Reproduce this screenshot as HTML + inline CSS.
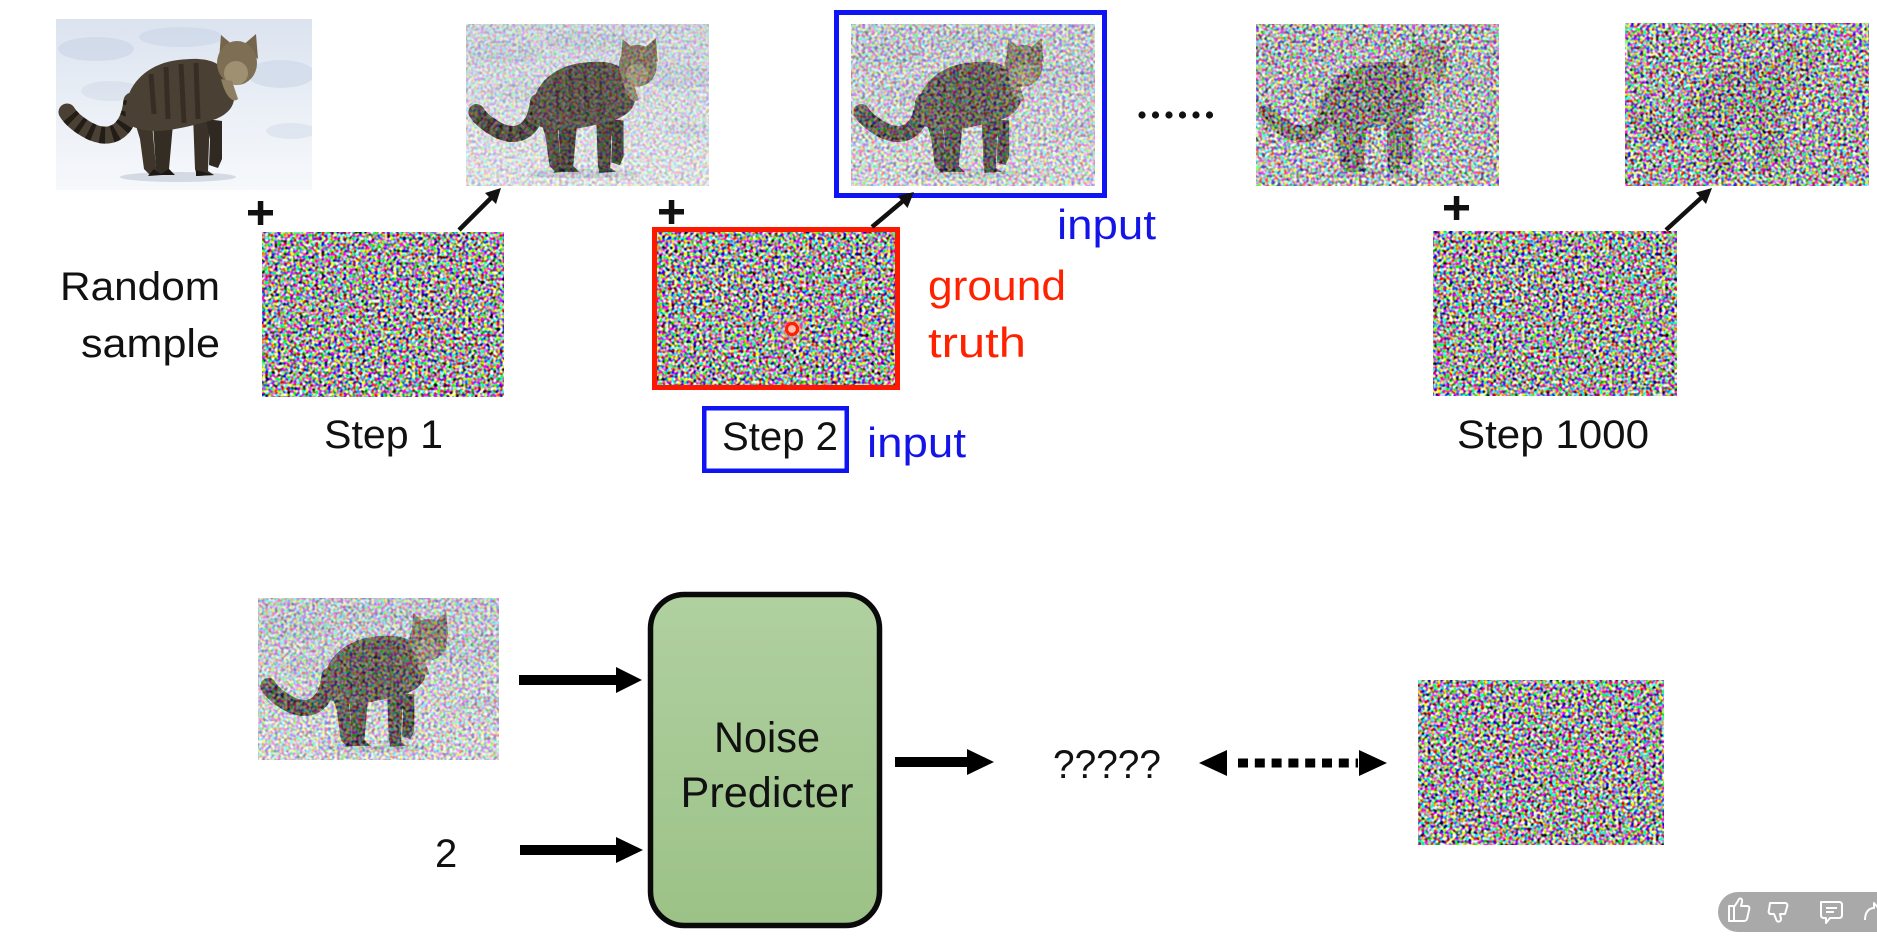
<!DOCTYPE html>
<html><head><meta charset="utf-8"><style>
html,body{margin:0;padding:0;background:#fff;}
body{width:1877px;height:937px;overflow:hidden;position:relative;}
svg{position:absolute;left:0;top:0;}
text{font-family:"Liberation Sans",sans-serif;}
</style></head><body>
<svg width="1877" height="937" viewBox="0 0 1877 937" xmlns="http://www.w3.org/2000/svg">
<defs>
  <filter id="nz" x="0" y="0" width="100%" height="100%" color-interpolation-filters="sRGB">
    <feTurbulence type="fractalNoise" baseFrequency="0.32" numOctaves="1" seed="7"/>
    <feComponentTransfer>
      <feFuncR type="linear" slope="3.6" intercept="-1.17"/>
      <feFuncG type="linear" slope="3.6" intercept="-1.17"/>
      <feFuncB type="linear" slope="3.6" intercept="-1.17"/>
      <feFuncA type="linear" slope="0" intercept="1"/>
    </feComponentTransfer>
  </filter>
  <linearGradient id="snow" x1="0" y1="0" x2="0" y2="1">
    <stop offset="0" stop-color="#dbe3ef"/>
    <stop offset="0.5" stop-color="#eaeff6"/>
    <stop offset="1" stop-color="#f6f8fb"/>
  </linearGradient>
  <linearGradient id="grn" x1="0" y1="0" x2="0" y2="1">
    <stop offset="0" stop-color="#b0d0a0"/>
    <stop offset="1" stop-color="#9cc287"/>
  </linearGradient>
  <radialGradient id="glow">
    <stop offset="0" stop-color="#ff9a8a" stop-opacity="0.9"/>
    <stop offset="1" stop-color="#ffb0a0" stop-opacity="0"/>
  </radialGradient>
  <symbol id="cat" viewBox="0 0 256 171" preserveAspectRatio="none">
    <rect x="0" y="0" width="256" height="171" fill="url(#snow)"/>
    <ellipse cx="40" cy="30" rx="38" ry="12" fill="#c6d1e3" opacity="0.55"/>
    <ellipse cx="125" cy="18" rx="42" ry="10" fill="#c6d1e3" opacity="0.5"/>
    <ellipse cx="225" cy="55" rx="34" ry="14" fill="#c9d4e5" opacity="0.55"/>
    <ellipse cx="55" cy="72" rx="30" ry="10" fill="#ccd7e7" opacity="0.45"/>
    <ellipse cx="235" cy="112" rx="25" ry="8" fill="#ccd7e7" opacity="0.45"/>
    <ellipse cx="122" cy="158" rx="58" ry="5" fill="#bcc6d5" opacity="0.6"/>
    <path d="M76 82 C72 118 50 122 30 110 C20 104 14 98 11 93" fill="none" stroke="#4a4034" stroke-width="17" stroke-linecap="round"/>
    <path d="M76 82 C72 118 50 122 30 110 C20 104 14 98 11 93" fill="none" stroke="#221d16" stroke-width="17" stroke-dasharray="5 7"/>
    <path d="M78 100 L96 104 L100 148 L106 153 L94 156 L88 150 L84 120 Z" fill="#3e362b"/>
    <path d="M97 105 L117 105 L113 150 L118 156 L104 156 L100 150 Z" fill="#342d24"/>
    <path d="M137 95 L154 95 L152 152 L158 156 L141 157 L139 150 Z" fill="#3a3229"/>
    <path d="M150 100 L166 102 L166 140 L162 149 L153 146 L154 120 Z" fill="#2f2921"/>
    <path d="M70 100 C66 70 88 45 122 41 C145 38 162 40 172 55 C184 80 178 92 160 100 C140 106 115 112 100 112 C85 112 72 108 70 100 Z" fill="#4a4034"/>
    <path d="M95 55 L98 95 M110 48 L112 100 M125 45 L128 104 M140 44 L142 100" stroke="#2a231b" stroke-width="5" opacity="0.6"/>
    <path d="M163 40 L165 16 L178 27 Z" fill="#74654c"/>
    <path d="M186 27 L200 15 L202 40 Z" fill="#74654c"/>
    <ellipse cx="181" cy="44" rx="20" ry="22" fill="#7d6e54"/>
    <ellipse cx="180" cy="54" rx="12" ry="12" fill="#a09072"/>
    <path d="M165 60 C170 80 178 84 182 80 L176 62 Z" fill="#8e7f62"/>
    <path d="M98 150 L106 156 L92 157 Z M113 150 L119 156 L103 156 Z M140 151 L158 156 L140 157 Z" fill="#1c1813"/>
  </symbol>
</defs>

<!-- top row images -->
<use href="#cat" x="56" y="19" width="256" height="171"/>

<use href="#cat" x="466" y="24" width="243" height="162"/>
<rect x="466" y="24" width="243" height="162" filter="url(#nz)" opacity="0.28"/>

<use href="#cat" x="851" y="24" width="244" height="162"/>
<rect x="851" y="24" width="244" height="162" filter="url(#nz)" opacity="0.44"/>
<rect x="836.5" y="12.5" width="268" height="183" fill="none" stroke="#0f14f5" stroke-width="5"/>

<use href="#cat" x="1256" y="24" width="243" height="162"/>
<rect x="1256" y="24" width="243" height="162" filter="url(#nz)" opacity="0.72"/>

<use href="#cat" x="1625" y="23" width="244" height="163"/>
<rect x="1625" y="23" width="244" height="163" filter="url(#nz)" opacity="0.9"/>

<!-- dots -->
<g fill="#111">
  <circle cx="1142" cy="115" r="3.6"/><circle cx="1155.5" cy="115" r="3.6"/><circle cx="1169" cy="115" r="3.6"/>
  <circle cx="1182.5" cy="115" r="3.6"/><circle cx="1196" cy="115" r="3.6"/><circle cx="1209.5" cy="115" r="3.6"/>
</g>

<!-- plus signs -->
<g fill="#111">
  <rect x="248" y="210" width="25" height="5.5"/><rect x="257.8" y="201" width="5.5" height="24"/>
  <rect x="659" y="209" width="25" height="5.5"/><rect x="668.8" y="200" width="5.5" height="24"/>
  <rect x="1444" y="205" width="25" height="5.5"/><rect x="1453.8" y="196" width="5.5" height="24"/>
</g>

<!-- noise images row 2 -->
<rect x="262" y="232" width="242" height="165" filter="url(#nz)"/>
<rect x="657" y="232" width="239" height="154" filter="url(#nz)"/>
<rect x="654.5" y="229.5" width="243" height="158" fill="none" stroke="#ff1800" stroke-width="5"/>
<circle cx="792" cy="329" r="16" fill="url(#glow)"/>
<circle cx="792" cy="329" r="5.5" fill="#ffc0b0" stroke="#ff2000" stroke-width="3.2"/>
<rect x="1433" y="231" width="244" height="165" filter="url(#nz)"/>

<!-- diagonal arrows -->
<g stroke="#111" stroke-width="4.5" fill="none">
  <line x1="459" y1="230" x2="491" y2="198"/>
  <line x1="872" y1="227" x2="903" y2="201"/>
  <line x1="1666" y1="230" x2="1701" y2="198"/>
</g>
<g fill="#111">
  <polygon points="501,188 496,204 485,193"/>
  <polygon points="914,192 907.5,208 897.5,196"/>
  <polygon points="1712,188 1706,204 1696,192.5"/>
</g>

<!-- labels -->
<text x="220" y="300" font-size="40" text-anchor="end" fill="#111" textLength="160" lengthAdjust="spacingAndGlyphs">Random</text>
<text x="220" y="357" font-size="40" text-anchor="end" fill="#111" textLength="139" lengthAdjust="spacingAndGlyphs">sample</text>
<text x="324" y="448" font-size="40" fill="#111" textLength="119" lengthAdjust="spacingAndGlyphs">Step 1</text>
<rect x="704.25" y="408.25" width="142.5" height="62.5" fill="none" stroke="#0f14f5" stroke-width="4.5"/>
<text x="722" y="450" font-size="40" fill="#111" textLength="116" lengthAdjust="spacingAndGlyphs">Step 2</text>
<text x="867" y="457" font-size="42" fill="#1414e8" textLength="99" lengthAdjust="spacingAndGlyphs">input</text>
<text x="1057" y="239" font-size="42" fill="#1414e8" textLength="99" lengthAdjust="spacingAndGlyphs">input</text>
<text x="928" y="300" font-size="42" fill="#ff2200" textLength="138" lengthAdjust="spacingAndGlyphs">ground</text>
<text x="928" y="357" font-size="42" fill="#ff2200" textLength="98" lengthAdjust="spacingAndGlyphs">truth</text>
<text x="1457" y="448" font-size="40" fill="#111" textLength="192" lengthAdjust="spacingAndGlyphs">Step 1000</text>

<!-- bottom section -->
<use href="#cat" x="258" y="598" width="241" height="162"/>
<rect x="258" y="598" width="241" height="162" filter="url(#nz)" opacity="0.44"/>

<g fill="#000">
  <rect x="519" y="675" width="101" height="10"/>
  <polygon points="616,667 642,680 616,693"/>
  <rect x="520" y="845" width="98" height="10"/>
  <polygon points="616,837 643,850 616,863"/>
  <rect x="895" y="757" width="75" height="10"/>
  <polygon points="967,749 994,762 967,775"/>
  <polygon points="1199,763 1227,750 1227,776"/>
  <polygon points="1387,763 1359,750 1359,776"/>
</g>
<line x1="1238" y1="763" x2="1358" y2="763" stroke="#000" stroke-width="9" stroke-dasharray="10 6.8"/>

<text x="435" y="867" font-size="40" fill="#111">2</text>

<rect x="650.5" y="594.5" width="229" height="331" rx="34" ry="34" fill="url(#grn)" stroke="#0a0a0a" stroke-width="5.5"/>
<text x="767" y="752" font-size="43" text-anchor="middle" fill="#111" textLength="106" lengthAdjust="spacingAndGlyphs">Noise</text>
<text x="767" y="807" font-size="43" text-anchor="middle" fill="#111" textLength="173" lengthAdjust="spacingAndGlyphs">Predicter</text>

<text x="1053" y="778" font-size="40" fill="#111" textLength="108" lengthAdjust="spacingAndGlyphs">?????</text>

<rect x="1418" y="680" width="246" height="165" filter="url(#nz)"/>

<!-- feedback pill -->
<rect x="1718" y="892" width="180" height="40" rx="20" ry="20" fill="#a9a9a9"/>
<g fill="none" stroke="#fff" stroke-width="2" stroke-linejoin="round">
  <path d="M1729 906 L1734 906 L1734 921 L1729 921 Z M1734 907 L1738 901 C1739 897 1743 898 1742 902 L1741 906 L1747 906 C1749 906 1750 908 1749 910 L1747 919 C1746 921 1745 921 1743 921 L1734 921"/>
  <path d="M1770 903 L1785 903 C1787 903 1788 905 1787 907 L1785 914 L1780 914 L1781 919 C1781 922 1777 923 1776 919 L1774 914 L1771 914 C1769 914 1768 912 1769 910 Z"/>
  <path d="M1821 902 L1839 902 C1841 902 1842 903 1842 905 L1842 915 C1842 917 1841 918 1839 918 L1830 918 L1826 923 L1826 918 L1824 918 C1822 918 1821 917 1821 915 Z"/>
  <path d="M1826 908 L1837 908 M1826 912 L1834 912"/>
  <path d="M1865 920 C1865 912 1869 908 1874 908 L1874 903 L1880 910"/>
</g>
</svg>
</body></html>
